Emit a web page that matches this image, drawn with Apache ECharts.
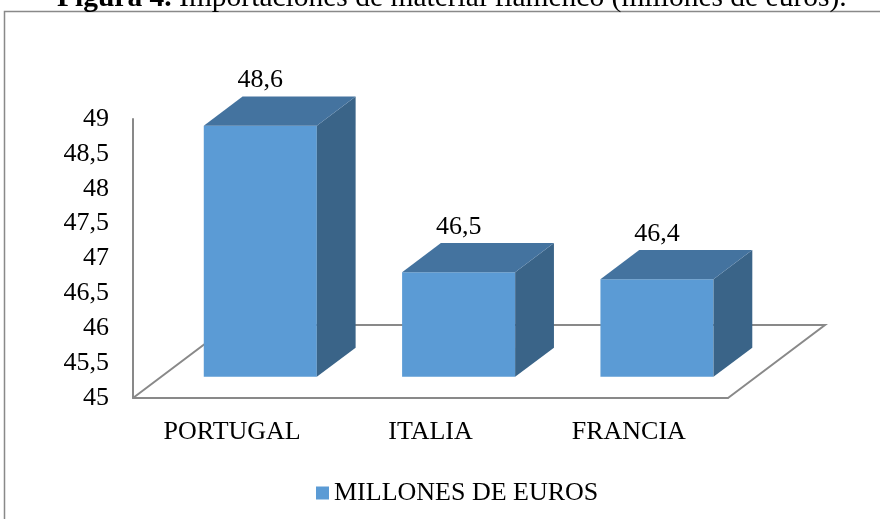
<!DOCTYPE html>
<html>
<head>
<meta charset="utf-8">
<script src="https://cdn.jsdelivr.net/npm/echarts@6/dist/echarts.min.js"></script>
<style>
  html, body { margin: 0; padding: 0; background: #fff; }
  #chart { width: 880px; height: 519px; }
</style>
</head>
<body>
<div id="chart"></div>
<script>
const categories = ['PORTUGAL', 'ITALIA', 'FRANCIA']
const values = [48.6, 46.5, 46.4]
const yTicks = ['45', '45,5', '46', '46,5', '47', '47,5', '48', '48,5', '49']
const seriesName = 'MILLONES DE EUROS'

const font = 'Liberation Serif'
const fontSize = 26
const titleSize = 29.5
const front = '#5b9bd5'
const topColor = '#44739f'
const sideColor = '#3a6488'
const lineColor = '#898989'

// floor depth in px, and where the bars sit inside it
const depthX = 97
const depthY = -73
const barStart = 0.29
const barDepth = 0.4

const fmt = v => String(v).replace('.', ',')

let myChart = echarts.init(document.getElementById('chart'))

function renderFloor (params, api) {
  const band = api.size([1, 0])[0]
  const p0 = api.coord([0, 45])
  const p1 = api.coord([categories.length - 1, 45])
  const x0 = p0[0] - band / 2
  const x1 = p1[0] + band / 2
  const y = p0[1]
  return {
    type: 'polyline',
    shape: {
      points: [[x0, y], [x0 + depthX, y + depthY], [x1 + depthX, y + depthY], [x1, y]]
    },
    style: { stroke: lineColor, lineWidth: 2, fill: null }
  }
}

function renderBar (params, api) {
  const band = api.size([1, 0])[0]
  const base = api.coord([api.value(0), 45])
  const top = api.coord([api.value(0), api.value(1)])
  const w = band * 0.57
  const ox = depthX * barStart
  const oy = depthY * barStart
  const dx = depthX * barDepth
  const dy = depthY * barDepth
  const l = base[0] + ox - w / 2
  const r = l + w
  const b = base[1] + oy
  const t = top[1] + oy
  return {
    type: 'group',
    children: [
      {
        type: 'polygon',
        shape: { points: [[l, b], [r, b], [r, t], [l, t]] },
        style: { fill: front }
      },
      {
        type: 'polygon',
        shape: { points: [[r, b], [r + dx, b + dy], [r + dx, t + dy], [r, t]] },
        style: { fill: sideColor }
      },
      {
        type: 'polygon',
        shape: { points: [[l, t], [r, t], [r + dx, t + dy], [l + dx, t + dy]] },
        style: { fill: topColor }
      },
      {
        type: 'text',
        style: {
          x: (l + r) / 2,
          y: t + dy - 3,
          text: fmt(api.value(1)),
          align: 'center',
          verticalAlign: 'bottom',
          font: fontSize + 'px "' + font + '"',
          fill: '#000'
        }
      }
    ]
  }
}

let option = {
  animation: false,
  textStyle: { fontFamily: font },
  title: {
    left: 52,
    top: -22,
    text: '{b|Figura 4.} Importaciones de material flamenco (millones de euros).',
    textStyle: {
      fontFamily: font,
      fontSize: titleSize,
      fontWeight: 'normal',
      color: '#000',
      rich: {
        b: { fontFamily: font, fontSize: titleSize, fontWeight: 'bold', color: '#000' }
      }
    }
  },
  graphic: [
    {
      type: 'rect',
      shape: { x: 4.5, y: 11.5, width: 1000, height: 600 },
      style: { fill: null, stroke: lineColor, lineWidth: 1.5 },
      silent: true
    }
  ],
  legend: {
    data: [seriesName],
    left: 311,
    top: 475,
    icon: 'rect',
    itemWidth: 13,
    itemHeight: 13,
    itemGap: 6,
    textStyle: { fontFamily: font, fontSize: fontSize, color: '#000' }
  },
  grid: {
    left: 133,
    right: 152,
    top: 119,
    bottom: 121
  },
  xAxis: {
    type: 'category',
    data: categories,
    axisLine: { lineStyle: { color: lineColor, width: 2 } },
    axisTick: { show: false },
    axisLabel: { fontFamily: font, fontSize: fontSize, color: '#000', margin: 21 }
  },
  yAxis: {
    type: 'value',
    min: 45,
    max: 49,
    interval: 0.5,
    axisLine: { show: true, lineStyle: { color: lineColor, width: 2 } },
    axisTick: { show: false },
    splitLine: { show: false },
    axisLabel: {
      fontFamily: font,
      fontSize: fontSize,
      color: '#000',
      margin: 24,
      formatter: v => yTicks[Math.round((v - 45) * 2)]
    }
  },
  series: [
    {
      name: 'floor',
      type: 'custom',
      z: 1,
      silent: true,
      renderItem: renderFloor,
      data: [[0, 45]]
    },
    {
      name: seriesName,
      type: 'custom',
      z: 2,
      itemStyle: { color: front },
      renderItem: renderBar,
      data: categories.map((c, i) => [i, values[i]])
    }
  ]
}
myChart.setOption(option)
</script>
</body>
</html>
